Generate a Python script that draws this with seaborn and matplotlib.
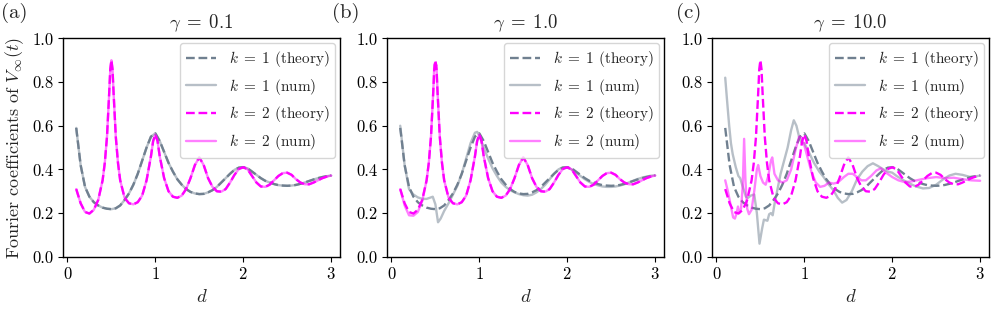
import matplotlib
matplotlib.use("Agg")
import matplotlib.pyplot as plt
import seaborn as sns

# --- data ---
gammas = ["0.1", "1.0", "10.0"]
panel_tags = ["(a)", "(b)", "(c)"]

# theory curves (same in every panel)
d_k1_theory = [0.10, 0.15, 0.20, 0.25, 0.30, 0.35, 0.40, 0.45, 0.50, 0.55,
               0.60, 0.65, 0.70, 0.75, 0.80, 0.85, 0.90, 0.95, 1.00, 1.05,
               1.10, 1.15, 1.20, 1.25, 1.30, 1.35, 1.40, 1.45, 1.50, 1.55,
               1.60, 1.65, 1.70, 1.75, 1.80, 1.85, 1.90, 1.95, 2.00, 2.05,
               2.10, 2.15, 2.20, 2.25, 2.30, 2.35, 2.40, 2.45, 2.50, 2.55,
               2.60, 2.65, 2.70, 2.75, 2.80, 2.85, 2.90, 2.95, 3.00]
k1_theory = [0.59, 0.42, 0.32, 0.275, 0.25, 0.235, 0.225, 0.22, 0.218, 0.222,
             0.235, 0.26, 0.29, 0.33, 0.38, 0.44, 0.50, 0.55, 0.565, 0.53,
             0.48, 0.43, 0.39, 0.355, 0.33, 0.31, 0.297, 0.29, 0.287, 0.288,
             0.295, 0.305, 0.32, 0.34, 0.36, 0.38, 0.398, 0.408, 0.41, 0.405,
             0.39, 0.375, 0.36, 0.348, 0.34, 0.333, 0.328, 0.326, 0.325, 0.326,
             0.329, 0.334, 0.34, 0.347, 0.354, 0.36, 0.365, 0.369, 0.372]

d_k2_theory = [0.10, 0.15, 0.20, 0.25, 0.30, 0.35, 0.40, 0.425, 0.45, 0.475,
               0.4875, 0.50, 0.5125, 0.525, 0.55, 0.575, 0.60, 0.65, 0.70, 0.75,
               0.80, 0.85, 0.90, 0.95, 0.975, 1.00, 1.025, 1.05, 1.10, 1.15,
               1.20, 1.25, 1.30, 1.35, 1.40, 1.45, 1.50, 1.55, 1.60, 1.65,
               1.70, 1.75, 1.80, 1.85, 1.90, 1.95, 2.00, 2.05, 2.10, 2.15,
               2.20, 2.25, 2.30, 2.35, 2.40, 2.45, 2.50, 2.55, 2.60, 2.65,
               2.70, 2.75, 2.80, 2.85, 2.90, 2.95, 3.00]
k2_theory = [0.31, 0.245, 0.205, 0.198, 0.215, 0.26, 0.35, 0.43, 0.55, 0.75,
             0.86, 0.90, 0.86, 0.75, 0.55, 0.43, 0.35, 0.27, 0.245, 0.24,
             0.25, 0.28, 0.35, 0.46, 0.53, 0.56, 0.53, 0.46, 0.36, 0.30,
             0.275, 0.27, 0.28, 0.31, 0.36, 0.42, 0.455, 0.42, 0.36, 0.32,
             0.30, 0.298, 0.31, 0.34, 0.375, 0.402, 0.41, 0.40, 0.37, 0.34,
             0.322, 0.32, 0.33, 0.35, 0.37, 0.383, 0.385, 0.375, 0.355, 0.34,
             0.332, 0.332, 0.34, 0.35, 0.36, 0.367, 0.372]

# numerics, gamma = 0.1 (sits on top of theory)
d_k1_num_a = d_k1_theory
k1_num_a = [0.59, 0.42, 0.32, 0.275, 0.25, 0.235, 0.225, 0.22, 0.218, 0.222,
            0.235, 0.26, 0.29, 0.33, 0.38, 0.44, 0.50, 0.55, 0.565, 0.53,
            0.48, 0.43, 0.39, 0.355, 0.33, 0.31, 0.297, 0.29, 0.287, 0.288,
            0.295, 0.305, 0.32, 0.34, 0.36, 0.38, 0.398, 0.408, 0.41, 0.405,
            0.39, 0.375, 0.36, 0.348, 0.34, 0.333, 0.328, 0.326, 0.325, 0.326,
            0.329, 0.334, 0.34, 0.347, 0.354, 0.36, 0.365, 0.369, 0.372]
d_k2_num_a = d_k2_theory
k2_num_a = [0.31, 0.245, 0.205, 0.198, 0.215, 0.26, 0.35, 0.43, 0.55, 0.75,
            0.86, 0.90, 0.86, 0.75, 0.55, 0.43, 0.35, 0.27, 0.245, 0.24,
            0.25, 0.28, 0.35, 0.46, 0.53, 0.56, 0.53, 0.46, 0.36, 0.30,
            0.275, 0.27, 0.28, 0.31, 0.36, 0.42, 0.455, 0.42, 0.36, 0.32,
            0.30, 0.298, 0.31, 0.34, 0.375, 0.402, 0.41, 0.40, 0.37, 0.34,
            0.322, 0.32, 0.33, 0.35, 0.37, 0.383, 0.385, 0.375, 0.355, 0.34,
            0.332, 0.332, 0.34, 0.35, 0.36, 0.367, 0.372]

# numerics, gamma = 1.0
d_k1_num_b = [0.10, 0.15, 0.20, 0.25, 0.30, 0.35, 0.40, 0.45, 0.47, 0.50,
              0.53, 0.56, 0.60, 0.65, 0.70, 0.75, 0.80, 0.85, 0.90, 0.95,
              0.975, 1.00, 1.05, 1.10, 1.15, 1.20, 1.25, 1.30, 1.35, 1.40,
              1.45, 1.50, 1.55, 1.60, 1.65, 1.70, 1.75, 1.80, 1.85, 1.90,
              1.95, 2.00, 2.05, 2.10, 2.15, 2.20, 2.25, 2.30, 2.35, 2.40,
              2.45, 2.50, 2.55, 2.60, 2.65, 2.70, 2.75, 2.80, 2.85, 2.90,
              2.95, 3.00]
k1_num_b = [0.60, 0.42, 0.31, 0.285, 0.272, 0.265, 0.265, 0.272, 0.275, 0.24,
            0.158, 0.175, 0.21, 0.245, 0.285, 0.325, 0.38, 0.45, 0.52, 0.568,
            0.572, 0.555, 0.50, 0.45, 0.405, 0.37, 0.34, 0.32, 0.305, 0.295,
            0.287, 0.282, 0.28, 0.284, 0.295, 0.31, 0.33, 0.355, 0.38, 0.40,
            0.41, 0.408, 0.40, 0.385, 0.37, 0.355, 0.343, 0.333, 0.327, 0.322,
            0.32, 0.32, 0.322, 0.326, 0.332, 0.34, 0.348, 0.356, 0.362, 0.367,
            0.371, 0.373]
d_k2_num_b = d_k2_theory
k2_num_b = [0.31, 0.235, 0.19, 0.188, 0.205, 0.255, 0.35, 0.43, 0.55, 0.75,
            0.88, 0.87, 0.88, 0.75, 0.55, 0.43, 0.35, 0.27, 0.245, 0.24,
            0.25, 0.28, 0.35, 0.46, 0.53, 0.56, 0.53, 0.46, 0.36, 0.30,
            0.275, 0.27, 0.28, 0.31, 0.36, 0.42, 0.455, 0.42, 0.36, 0.32,
            0.30, 0.298, 0.31, 0.34, 0.375, 0.402, 0.41, 0.40, 0.37, 0.34,
            0.322, 0.32, 0.33, 0.35, 0.37, 0.383, 0.385, 0.375, 0.355, 0.34,
            0.332, 0.332, 0.34, 0.35, 0.36, 0.367, 0.372]

# numerics, gamma = 10.0
d_k1_num_c = [0.10, 0.12, 0.145, 0.165, 0.185, 0.22, 0.25, 0.27, 0.30, 0.335,
              0.36, 0.39, 0.43, 0.46, 0.49, 0.52, 0.54, 0.58, 0.60, 0.62,
              0.64, 0.66, 0.70, 0.73, 0.77, 0.81, 0.85, 0.88, 0.91, 0.94,
              0.97, 1.00, 1.05, 1.11, 1.17, 1.22, 1.28, 1.33, 1.38, 1.43,
              1.48, 1.54, 1.60, 1.66, 1.72, 1.78, 1.84, 1.90, 1.95, 2.00,
              2.05, 2.13, 2.20, 2.27, 2.35, 2.42, 2.50, 2.58, 2.65, 2.72,
              2.80, 2.88, 2.95, 3.00]
k1_num_c = [0.82, 0.72, 0.60, 0.52, 0.47, 0.41, 0.37, 0.36, 0.32, 0.275,
            0.27, 0.28, 0.285, 0.20, 0.06, 0.13, 0.17, 0.165, 0.195, 0.20,
            0.19, 0.24, 0.32, 0.38, 0.44, 0.50, 0.58, 0.625, 0.60, 0.55,
            0.52, 0.52, 0.48, 0.43, 0.39, 0.365, 0.33, 0.305, 0.27, 0.248,
            0.26, 0.30, 0.355, 0.39, 0.415, 0.428, 0.415, 0.40, 0.39, 0.385,
            0.37, 0.35, 0.335, 0.322, 0.313, 0.315, 0.33, 0.355, 0.372, 0.38,
            0.375, 0.366, 0.368, 0.372]
d_k2_num_c = [0.10, 0.13, 0.16, 0.19, 0.21, 0.23, 0.245, 0.26, 0.28, 0.30,
              0.315, 0.33, 0.35, 0.37, 0.40, 0.43, 0.46, 0.475, 0.50, 0.53,
              0.56, 0.59, 0.62, 0.635, 0.66, 0.70, 0.75, 0.80, 0.85, 0.90,
              0.94, 0.97, 1.00, 1.04, 1.08, 1.13, 1.18, 1.23, 1.28, 1.33,
              1.38, 1.45, 1.50, 1.55, 1.60, 1.65, 1.70, 1.76, 1.82, 1.87,
              1.93, 2.00, 2.07, 2.14, 2.22, 2.30, 2.40, 2.50, 2.60, 2.70,
              2.80, 2.90, 3.00]
k2_num_c = [0.35, 0.30, 0.24, 0.18, 0.175, 0.20, 0.23, 0.20, 0.22, 0.33,
            0.54, 0.35, 0.22, 0.195, 0.215, 0.30, 0.40, 0.42, 0.37, 0.34,
            0.33, 0.37, 0.44, 0.455, 0.38, 0.35, 0.34, 0.35, 0.40, 0.49,
            0.55, 0.545, 0.51, 0.45, 0.39, 0.34, 0.32, 0.325, 0.34, 0.335,
            0.34, 0.365, 0.38, 0.38, 0.365, 0.35, 0.35, 0.37, 0.395, 0.405,
            0.385, 0.365, 0.35, 0.342, 0.345, 0.352, 0.36, 0.365, 0.36, 0.362,
            0.355, 0.35, 0.348]

num_k1 = [(d_k1_num_a, k1_num_a), (d_k1_num_b, k1_num_b), (d_k1_num_c, k1_num_c)]
num_k2 = [(d_k2_num_a, k2_num_a), (d_k2_num_b, k2_num_b), (d_k2_num_c, k2_num_c)]

# --- style ---
sns.set_style("ticks")
plt.rcParams["font.family"] = ["cmr10", "DejaVu Serif"]
plt.rcParams["mathtext.fontset"] = "cm"
plt.rcParams["axes.formatter.use_mathtext"] = True
plt.rcParams["axes.unicode_minus"] = False
plt.rcParams["font.size"] = 12
plt.rcParams["axes.edgecolor"] = "black"
plt.rcParams["axes.linewidth"] = 1.0
plt.rcParams["xtick.color"] = "black"
plt.rcParams["ytick.color"] = "black"
plt.rcParams["xtick.direction"] = "out"
plt.rcParams["ytick.direction"] = "out"
plt.rcParams["xtick.major.size"] = 3.5
plt.rcParams["ytick.major.size"] = 3.5

c_k1 = "slategray"
c_k2 = "magenta"
eq = r"\;=\;"

fig = plt.figure(figsize=(9.96, 3.12), dpi=100)
lefts = [0.0633, 0.3886, 0.7149]
tag_x = [0.001, 0.333, 0.679]

for i in range(3):
    ax = fig.add_axes([lefts[i], 0.177, 0.278, 0.700])

    sns.lineplot(x=d_k1_theory, y=k1_theory, ax=ax, color=c_k1, linestyle="--",
                 linewidth=1.7, label=r"$k" + eq + "1$ (theory)", sort=False)
    sns.lineplot(x=num_k1[i][0], y=num_k1[i][1], ax=ax, color=c_k1, alpha=0.5,
                 linewidth=1.7, label=r"$k" + eq + "1$ (num)", sort=False)
    sns.lineplot(x=d_k2_theory, y=k2_theory, ax=ax, color=c_k2, linestyle="--",
                 linewidth=1.7, label=r"$k" + eq + "2$ (theory)", sort=False)
    sns.lineplot(x=num_k2[i][0], y=num_k2[i][1], ax=ax, color=c_k2, alpha=0.5,
                 linewidth=1.7, label=r"$k" + eq + "2$ (num)", sort=False)

    ax.set_xlim(-0.05, 3.1)
    ax.set_ylim(0, 1)
    ax.set_xticks([0, 1, 2, 3])
    ax.set_yticks([0.0, 0.2, 0.4, 0.6, 0.8, 1.0])
    ax.set_yticklabels(["0.0", "0.2", "0.4", "0.6", "0.8", "1.0"])
    ax.tick_params(labelsize=12)
    ax.set_xlabel(r"$d$", fontsize=13.5)
    ax.set_title(r"$\gamma" + eq + gammas[i] + "$", fontsize=13.5, pad=7)
    if i == 0:
        ax.set_ylabel(r"Fourier coefficients of $V_\infty(t)$", fontsize=13)
    else:
        ax.set_ylabel("")
    ax.legend(loc="upper right", fontsize=11, borderaxespad=0.3)
    for sp in ax.spines.values():
        sp.set_visible(True)
        sp.set_color("black")

    fig.text(tag_x[i], 0.99, panel_tags[i], va="top", ha="left", fontsize=15)

plt.savefig("out.png", dpi=100)
plt.close()
